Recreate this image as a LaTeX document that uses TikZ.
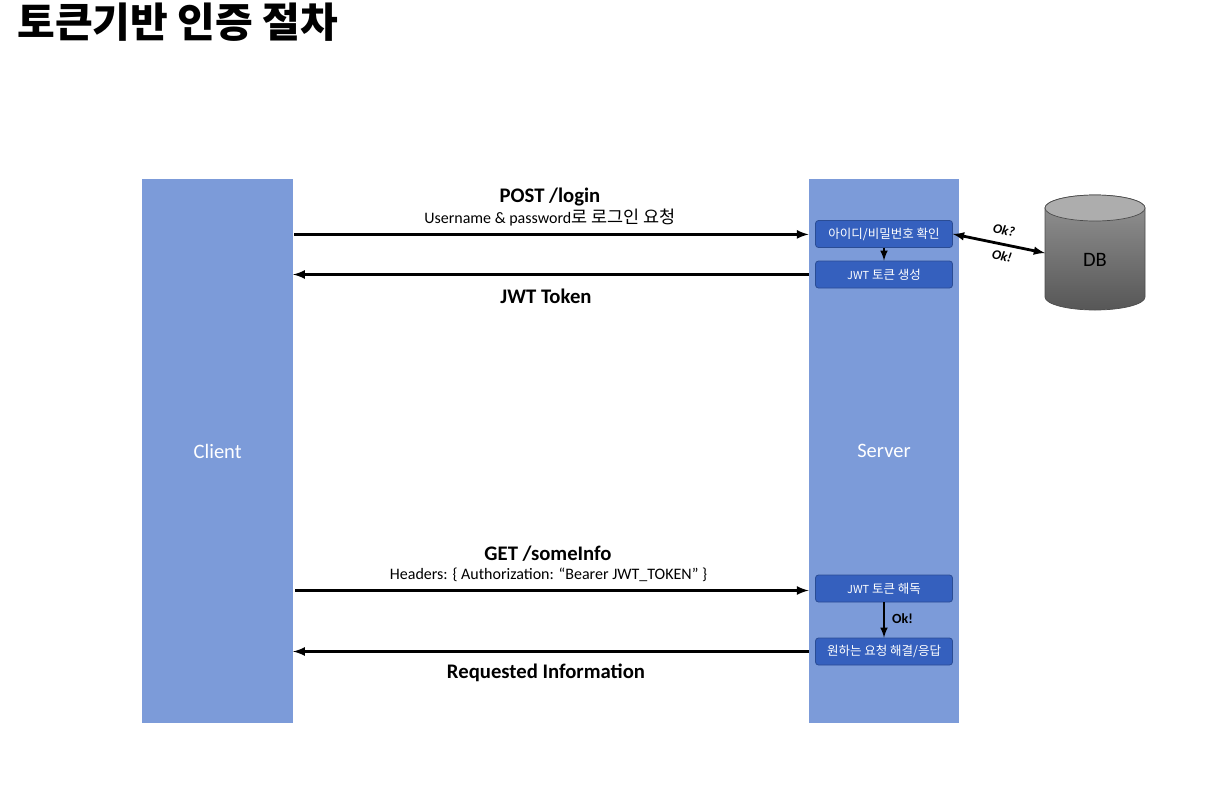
\documentclass[tikz,border=0pt]{standalone}
\usepackage{fontspec}
\setmainfont{Carlito}
\newfontfamily\kor{Noto Sans CJK KR}
\usepackage{tikz}
\usetikzlibrary{shapes,arrows,positioning,calc}
\definecolor{lane}{HTML}{7C9BD9}
\definecolor{stepfill}{HTML}{3560BE}
\definecolor{stepedge}{HTML}{2A4C94}
\tikzstyle{lanebox} = [fill=lane, text=white, minimum width=150.5pt, minimum height=544pt, font=\fontsize{20.5}{24}\selectfont]
\tikzstyle{stepbox} = [fill=stepfill, draw=stepedge, rounded corners=3pt, line width=0.8pt, text=white, minimum width=137pt, minimum height=27pt, inner sep=0pt, font=\kor\fontsize{12.5}{14}\selectfont]
\tikzstyle{line} = [draw, line width=3pt, -latex]
\tikzstyle{bigmsg} = [font=\bfseries\fontsize{20.7}{24}\selectfont]
\tikzstyle{smallmsg} = [font=\fontsize{16}{19}\selectfont]
\tikzstyle{oklabel} = [font=\bfseries\itshape\fontsize{13.5}{15}\selectfont]
\begin{document}
\begin{tikzpicture}[x=1pt, y=-1pt]
	\useasboundingbox (0,0) rectangle (1217,793);

	\node [anchor=west, font=\kor\bfseries\fontsize{41}{44}\selectfont] (title) at (14,22) {토큰기반 인증 절차};

	\node [lanebox] (client) at (217.7,451) {\raisebox{-1pt}{Client}};
	\node [lanebox] (server) at (884,451) {\raisebox{-1pt}{Server}};

	\node [stepbox] (check) at (884,234) {아이디/비밀번호 확인};
	\node [stepbox] (issue) at (884,274.5) {{\fontsize{11}{13}\selectfont JWT} 토큰 생성};
	\node [stepbox] (decode) at (884,588.5) {{\fontsize{11}{13}\selectfont JWT} 토큰 해독};
	\node [stepbox] (answer) at (884,651.5) {원하는 요청 해결/응답};

	% cylinder for the database
	\shade [draw=black!70, line width=0.7pt, top color=black!42, bottom color=black!66] (1045,208) -- (1045,297) arc (180:0:50 and 13) -- (1145,208) arc (0:-180:50 and 13) -- cycle;
	\draw [draw=black!70, line width=0.7pt, fill=black!32] (1095,208) ellipse (50 and 13);
	\node [font=\fontsize{20.5}{24}\selectfont] (db) at (1095,260) {DB};
	\coordinate (dbport) at (1045,253);

	\node [bigmsg] (post) at (550,196.5) {POST /login};
	\node [smallmsg] (postsub) at (550,218) {Username \& password{\kor\fontsize{17.5}{19}\selectfont 로 로그인 요청}};
	\node [bigmsg] (jwt) at (546,296) {JWT Token};
	\node [bigmsg] (get) at (548,554) {GET /someInfo};
	\node [smallmsg] (getsub) at (548.5,575) {Headers: \{ Authorization: “Bearer JWT\_TOKEN” \}};
	\node [bigmsg] (info) at (546,672.5) {Requested Information};

	\node [oklabel, rotate=-12] (okask) at (1004,230) {Ok?};
	\node [oklabel, rotate=-12] (okreply) at (1002,256) {Ok!};
	\node [font=\bfseries\fontsize{14}{16}\selectfont] (okdone) at (902.5,619) {Ok!};

	\path [line] ($(client.east |- check)+(1,0.4)$) -- ($(server.west |- check)+(0,0.4)$);
	\path [line] (server.west |- issue) -- (client.east |- issue);
	\path [line] ($(client.east |- decode)+(2,2)$) -- ($(server.west |- decode)+(0,2)$);
	\path [line] (server.west |- answer) -- (client.east |- answer);

	\path [line, line width=2.4pt] (check) -- (issue);
	\path [line, line width=2.4pt] (decode) -- (answer);
	\path [line, line width=2.8pt, latex-latex] (check.east) -- (dbport);
\end{tikzpicture}
\end{document}
